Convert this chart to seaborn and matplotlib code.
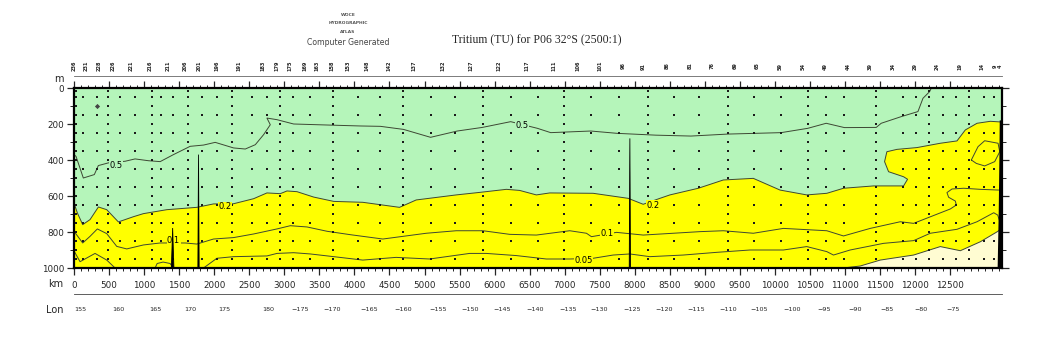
import numpy as np
import pandas as pd
import matplotlib
matplotlib.use("Agg")
import matplotlib.pyplot as plt
import matplotlib.transforms as mtransforms
from matplotlib.ticker import MultipleLocator, FixedLocator, NullFormatter
import seaborn as sns

sns.set_style("white")
plt.rcParams["font.family"] = ["DejaVu Sans"]

# ---------------- section data (distance in km, depth in m) ----------------
station_km = [0, 171, 357, 557, 813, 1084, 1341, 1584, 1784, 2041, 2354, 2697,
              2897, 3082, 3296, 3467, 3682, 3910, 4181, 4495, 4852, 5265, 5665,
              6065, 6464, 6849, 7192, 7506, 7834, 8119, 8462, 8790, 9104, 9432,
              9746, 10074, 10402, 10716, 11044, 11358, 11687, 12001, 12315,
              12643, 12957, 13142, 13214]
station_ids = [236, 231, 228, 226, 221, 216, 211, 206, 201, 196, 191, 183, 179,
               175, 169, 163, 158, 153, 148, 142, 137, 132, 127, 122, 117, 111,
               106, 101, 96, 91, 86, 81, 76, 69, 65, 59, 54, 49, 44, 39, 34, 29,
               24, 19, 14, 9, 4]

km_ticks = [0, 500, 1000, 1500, 2000, 2500, 3000, 3500, 4000, 4500, 5000, 5500,
            6000, 6500, 7000, 7500, 8000, 8500, 9000, 9500, 10000, 10500, 11000,
            11500, 12000, 12500]
depth_ticks = [0, 200, 400, 600, 800, 1000]

lon_km = [86, 628, 1156, 1655, 2140, 2768, 3225, 3682, 4209, 4695, 5194, 5651,
          6107, 6578, 7049, 7491, 7962, 8419, 8876, 9332, 9774, 10245, 10702,
          11144, 11601, 12086, 12543]
lon_labels = ["155", "160", "165", "170", "175", "180", "\u2212175", "\u2212170",
              "\u2212165", "\u2212160", "\u2212155", "\u2212150", "\u2212145",
              "\u2212140", "\u2212135", "\u2212130", "\u2212125", "\u2212120",
              "\u2212115", "\u2212110", "\u2212105", "\u2212100", "\u221295",
              "\u221290", "\u221285", "\u221280", "\u221275"]

# 0.5 TU isoline
c05_km = [0, 29, 133, 290, 347, 500, 729, 871, 1062, 1229, 1419, 1657, 1848,
          2014, 2276, 2443, 2586, 2705, 2800, 2752, 2895, 3133, 3643, 4086,
          4371, 4700, 5086, 5467, 5824, 6229, 6610, 6800, 7371, 7752, 8300,
          8800, 9324, 10086, 10467, 10729, 10990, 11443, 11514, 11800, 12038,
          12110, 12205, 12229]
c05_m = [370, 380, 500, 481, 431, 415, 407, 394, 404, 409, 370, 324, 317, 302,
         333, 339, 315, 259, 204, 167, 176, 200, 206, 211, 213, 230, 274, 239,
         219, 187, 224, 248, 239, 252, 262, 267, 256, 248, 224, 196, 220, 219,
         196, 159, 131, 57, 20, 0]

# 0.2 TU isoline (boundary of the green band)
c02_km = [0, 48, 124, 229, 348, 467, 633, 848, 990, 1324, 1752, 1990, 2276,
          2562, 2752, 2943, 3038, 3181, 3419, 3705, 4119, 4643, 4881, 5452,
          5786, 6167, 6357, 6595, 6786, 7405, 7905, 8119, 8357, 8500, 8905,
          9262, 9690, 10071, 10452, 10738, 10976, 11405, 11833, 11890, 11833,
          11619, 11562, 11595, 11738, 12024, 12357, 12595, 12714, 12881, 13071,
          13230]
c02_m = [639, 694, 759, 731, 661, 676, 744, 715, 698, 676, 663, 644, 643, 615,
         583, 587, 572, 576, 606, 630, 635, 663, 622, 594, 580, 563, 569, 594,
         583, 585, 613, 646, 613, 594, 557, 511, 502, 567, 594, 585, 557, 544,
         544, 507, 493, 465, 409, 354, 341, 331, 307, 294, 233, 196, 185, 189]

# closed 0.2 TU pocket near the eastern boundary
c02b_km = [12800, 12895, 12990, 13181, 13205, 13133, 12990, 12871, 12800]
c02b_m = [400, 326, 293, 307, 354, 409, 433, 419, 400]

# 0.1 TU isoline
c01_km = [0, 124, 229, 333, 467, 610, 752, 990, 1229, 1586, 1752, 1990, 2276,
          2562, 2895, 3086, 3324, 3610, 3943, 4405, 5024, 5452, 5833, 6214,
          6595, 7071, 7310, 7381, 7738, 8119, 8929, 9262, 9690, 10119, 10738,
          10976, 11357, 11786, 11976, 12500, 12586, 12571, 12476, 12452, 12524,
          12690, 12929, 13190]
c01_m = [796, 861, 824, 783, 809, 880, 894, 872, 861, 861, 867, 839, 831, 811,
         783, 765, 772, 796, 815, 839, 807, 793, 793, 813, 817, 793, 807, 826,
         802, 817, 798, 793, 807, 780, 793, 822, 780, 743, 752, 672, 650, 628,
         607, 581, 561, 557, 563, 567]

# 0.05 TU isoline (three pieces, cut by the bottom)
c005a_km = [0, 86, 300, 467, 586]
c005a_m = [905, 965, 919, 956, 1000]
c005b_km = [1157, 1186, 1271, 1371, 1414]
c005b_m = [1000, 975, 967, 975, 1000]
c005c_km = [1848, 2038, 2276, 2752, 2895, 3133, 3371, 3705, 4119, 4595, 5071,
            5643, 5881, 6310, 6738, 7071, 7405, 7690, 7929, 8214, 8690, 9167,
            9643, 10119, 10452, 10738, 10833, 11071, 11548, 11976, 12214, 12595,
            12881, 13119, 13176, 13200]
c005c_m = [1000, 946, 937, 933, 919, 915, 922, 937, 956, 941, 950, 919, 919,
           931, 950, 950, 946, 928, 922, 937, 928, 913, 900, 900, 881, 909, 928,
           900, 863, 848, 807, 785, 743, 693, 706, 735]

# lowest isoline (pale band underneath)
c002_km = [10971, 11214, 11500, 11976, 12357, 12643, 12929, 13171, 13200]
c002_m = [1000, 989, 956, 928, 881, 904, 854, 798, 790]

# bottom topography reaching into the section
seamount_km = [1407, 1776, 7929]
seamount_top = [778, 370, 280]
seamount_halfwidth = [18, 9, 9]
slope_km = [13175, 13190, 13200, 13205, 13230, 13230]
slope_m = [1000, 700, 400, 180, 180, 1000]

# bottle sample positions
bottle_col_km = [29, 129, 329, 486, 657, 871, 1114, 1243, 1414, 1629, 1829,
                 2043, 2257, 2543, 2757, 2943, 3129, 3371, 3700, 4057, 4371,
                 4700, 5086, 5429, 5829, 6229, 6614, 6986, 7371, 7771, 8186,
                 8557, 8914, 9329, 9700, 10086, 10471, 10729, 10986, 11443,
                 11829, 12014, 12200, 12400, 12586, 12771, 12986, 13129]
bottle_depths_full = [15, 50, 100, 150, 200, 250, 300, 350, 400, 450, 500, 550,
                      600, 650, 700, 750, 800, 850, 900, 950]
bottle_depths_half = [50, 150, 250, 350, 450, 550, 650, 750, 850, 950]
marked_km = [329]
marked_m = [100]

# ---------------- styling ----------------
GREEN = "#b5f5ba"
YELLOW = "#ffff00"
PALE = "#fffcd2"
LINE = "#3d4733"
XMAX = 13230

W, H = 1050, 350
fig = plt.figure(figsize=(W / 100, H / 100), dpi=100)
fig.patch.set_facecolor("white")


def fx(px):
    return px / W


def fy(py):
    return (H - py) / H


ax = fig.add_axes([fx(74), fy(268), fx(1001.5) - fx(74), fy(88) - fy(268)])

# filled bands
ax.fill_between([0, XMAX], 0, 1000, color=YELLOW, lw=0, zorder=1)
ax.fill(list(c02_km) + [XMAX, 0], list(c02_m) + [0, 0], color=GREEN, lw=0, zorder=1)
ax.fill(list(c002_km) + [XMAX, XMAX], list(c002_m) + [790, 1000], color=PALE,
        lw=0, zorder=1)

# isolines
for xs, ys in [(c05_km, c05_m), (c02_km, c02_m), (c02b_km, c02b_m),
               (c01_km, c01_m), (c005a_km, c005a_m), (c005b_km, c005b_m),
               (c005c_km, c005c_m), (c002_km, c002_m)]:
    sns.lineplot(x=xs, y=ys, sort=False, estimator=None, color=LINE, lw=0.7,
                 ax=ax, zorder=2)

# bottle samples: every third cast sampled densely, the rest every 100 m
rows = []
for i, k in enumerate(bottle_col_km):
    depths = bottle_depths_full if i % 3 == 0 else bottle_depths_half
    for d in depths:
        rows.append((k, d))
bottles = pd.DataFrame(rows, columns=["km", "depth"])
sns.scatterplot(data=bottles, x="km", y="depth", s=0.9, color="#1a1a1a",
                marker="s", linewidth=0, ax=ax, zorder=3)
sns.scatterplot(x=marked_km, y=marked_m, s=7, color="#444444", marker="D",
                linewidth=0, ax=ax, zorder=3)

# isoline labels
label_specs = [("0.5", 600, 433, GREEN), ("0.5", 6386, 206, GREEN),
               ("0.2", 2157, 660, YELLOW), ("0.2", 8257, 650, YELLOW),
               ("0.1", 1420, 848, YELLOW), ("0.1", 7600, 808, YELLOW),
               ("0.05", 7271, 961, YELLOW)]
for txt, k, d, bg in label_specs:
    ax.text(k, d, txt, fontsize=6, ha="center", va="center", color="black",
            zorder=4, bbox=dict(boxstyle="square,pad=0.05", fc=bg, ec="none"))

# bottom topography
for k, top, hw in zip(seamount_km, seamount_top, seamount_halfwidth):
    ax.fill([k - hw, k, k + hw], [1000, top, 1000], color="black", lw=0.6,
            ec="black", zorder=5)
ax.fill(slope_km, slope_m, color="black", lw=0, zorder=5)

ax.set_xlim(0, XMAX)
ax.set_ylim(1000, 0)
ax.set_xlabel("")
ax.set_ylabel("")

ax.xaxis.set_major_locator(FixedLocator(km_ticks))
ax.xaxis.set_minor_locator(MultipleLocator(100))
ax.yaxis.set_major_locator(FixedLocator(depth_ticks))
ax.yaxis.set_minor_locator(MultipleLocator(100))
ax.set_xticklabels([str(v) for v in km_ticks])
ax.set_yticklabels([str(v) for v in depth_ticks])
ax.tick_params(axis="x", which="major", direction="out", length=5, width=0.9,
               top=True, bottom=True, labeltop=False, labelsize=6.3, pad=4)
ax.tick_params(axis="x", which="minor", direction="out", length=2.5, width=0.7,
               top=True, bottom=True)
ax.tick_params(axis="y", which="major", direction="out", length=5, width=0.9,
               left=True, right=True, labelright=False, labelsize=6.3, pad=2)
ax.tick_params(axis="y", which="minor", direction="out", length=3, width=0.7,
               left=True, right=True)
for side in ["left", "right", "top", "bottom"]:
    ax.spines[side].set_visible(True)
    ax.spines[side].set_color("black")
    ax.spines[side].set_linewidth(1.6)

# station axis above the section
ax_st = fig.add_axes([fx(74), fy(76), fx(1001.5) - fx(74), 0.0005])
ax_st.set_xlim(0, XMAX)
ax_st.set_ylim(0, 1)
for side in ["left", "right", "top"]:
    ax_st.spines[side].set_visible(False)
ax_st.spines["bottom"].set_color("#666666")
ax_st.spines["bottom"].set_linewidth(0.6)
ax_st.set_yticks([])
ax_st.xaxis.set_major_locator(FixedLocator(station_km))
ax_st.xaxis.set_minor_locator(MultipleLocator(60))
ax_st.xaxis.set_major_formatter(NullFormatter())
ax_st.tick_params(axis="x", which="major", direction="inout", length=5,
                  width=0.6, color="#cc3333")
ax_st.tick_params(axis="x", which="minor", direction="inout", length=3.5,
                  width=0.5, color="#44aa44")
ax_st.patch.set_alpha(0)
trans_st = mtransforms.blended_transform_factory(ax_st.transData, fig.transFigure)
for k, sid in zip(station_km, station_ids):
    ax_st.text(k, fy(66), str(sid), rotation=90, fontsize=3.6, ha="center",
               va="center", transform=trans_st, fontweight="bold")

# longitude axis below the section
ax_lon = fig.add_axes([fx(74), fy(293.5), fx(1001.5) - fx(74), 0.0005])
ax_lon.set_xlim(0, XMAX)
for side in ["left", "right", "top"]:
    ax_lon.spines[side].set_visible(False)
ax_lon.spines["bottom"].set_color("#444444")
ax_lon.spines["bottom"].set_linewidth(0.6)
ax_lon.set_yticks([])
ax_lon.xaxis.set_major_locator(FixedLocator(lon_km))
ax_lon.xaxis.set_minor_locator(MultipleLocator(94.4, offset=86))
ax_lon.set_xticklabels(lon_labels)
ax_lon.tick_params(axis="x", which="major", direction="inout", length=7,
                   width=0.6, color="#444444", labelsize=4.6, pad=6)
ax_lon.tick_params(axis="x", which="minor", direction="inout", length=4,
                   width=0.5, color="#555555")
ax_lon.patch.set_alpha(0)

# axis names
fig.text(fx(59), fy(79), "m", fontsize=7, ha="center", va="center")
fig.text(fx(56), fy(284), "km", fontsize=7, ha="center", va="center")
fig.text(fx(55), fy(310), "Lon", fontsize=7, ha="center", va="center")

# title and atlas mark
fig.text(fx(537), fy(40), "Tritium (TU) for P06 32\u00b0S (2500:1)",
         fontsize=8.5, ha="center", va="center",
         family=["Liberation Serif", "DejaVu Serif"])
for txt, py in [("WOCE", 15), ("HYDROGRAPHIC", 23.5), ("ATLAS", 32)]:
    fig.text(fx(348), fy(py), txt, fontsize=3.2, ha="center", va="center",
             color="#555555", fontweight="bold")
fig.text(fx(348), fy(42.5), "Computer Generated", fontsize=5.6, ha="center",
         va="center", color="#444444")

fig.savefig("out.png", dpi=100, facecolor="white")
